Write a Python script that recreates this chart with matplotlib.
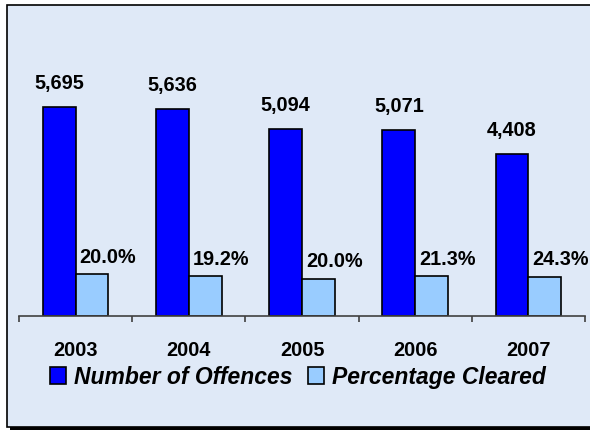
import matplotlib.pyplot as plt
from matplotlib.patches import Rectangle
import numpy as np

# data
years = ['2003', '2004', '2005', '2006', '2007']
offences = [5695, 5636, 5094, 5071, 4408]
pct_cleared = [20.0, 19.2, 20.0, 21.3, 24.3]

plt.rcParams['font.family'] = ['Liberation Sans', 'DejaVu Sans']

W, H = 590, 431
fig = plt.figure(figsize=(W / 100, H / 100), dpi=100)
fig.patch.set_facecolor('white')

bg = '#dfe9f7'
# chart frame with a dark bottom edge
fig.patches.append(Rectangle((7 / W, 3 / H), 1.0, 1 - 9 / H, transform=fig.transFigure,
                             facecolor=bg, edgecolor='black', lw=1.2, zorder=-2))
fig.patches.append(Rectangle((10 / W, 0), 1.0, 3 / H, transform=fig.transFigure,
                             facecolor='black', edgecolor='none', zorder=-1))

# axes placed so the baseline sits near y=317 px
ax = fig.add_axes([19 / W, (H - 317) / H, 566 / W, (317 - 10) / H])
ax.patch.set_visible(False)

x = np.arange(len(years))
w = 0.29
# the light bars show the number cleared, on the same scale as offences
cleared = [o * p / 100 for o, p in zip(offences, pct_cleared)]
b1 = ax.bar(x - w / 2, offences, w, color='#0000ff', edgecolor='black', lw=1.2,
            label='Number of Offences')
b2 = ax.bar(x + w / 2, cleared, w, color='#99ccff', edgecolor='black', lw=1.2,
            label='Percentage Cleared')

ax.set_xlim(-0.5, len(years) - 0.5)
ax.set_ylim(0, 8370)

for xi, v in zip(x, offences):
    ax.annotate('{:,}'.format(v), (xi - w / 2, v), xytext=(0, 18), textcoords='offset points',
                ha='center', va='center', fontsize=14.3, fontweight='bold')
for xi, v, p in zip(x, cleared, pct_cleared):
    ax.annotate('%.1f%%' % p, (xi + w / 2, v), xytext=(11.5, 13), textcoords='offset points',
                ha='center', va='center', fontsize=14.3, fontweight='bold')

for s in ['left', 'top', 'right']:
    ax.spines[s].set_visible(False)
ax.spines['bottom'].set_color('#404040')
ax.spines['bottom'].set_linewidth(1.2)
ax.set_yticks([])
ax.set_xticks(x)
ax.set_xticklabels(years, fontsize=14.3, fontweight='bold')
ax.tick_params(axis='x', which='major', length=0, pad=17)
ax.set_xticks(np.arange(-0.5, len(years)), minor=True)
ax.tick_params(axis='x', which='minor', length=4.5, width=1.2, color='#404040', direction='out')

fig.legend(handles=[b1, b2], loc='center', bbox_to_anchor=(0.505, 1 - 378 / H), ncol=2,
           frameon=False, prop={'weight': 'bold', 'style': 'italic', 'size': 16.5},
           handlelength=0.7, handleheight=0.7, handletextpad=0.35, columnspacing=0.7)

plt.savefig('out.png', dpi=100, facecolor=fig.get_facecolor())
